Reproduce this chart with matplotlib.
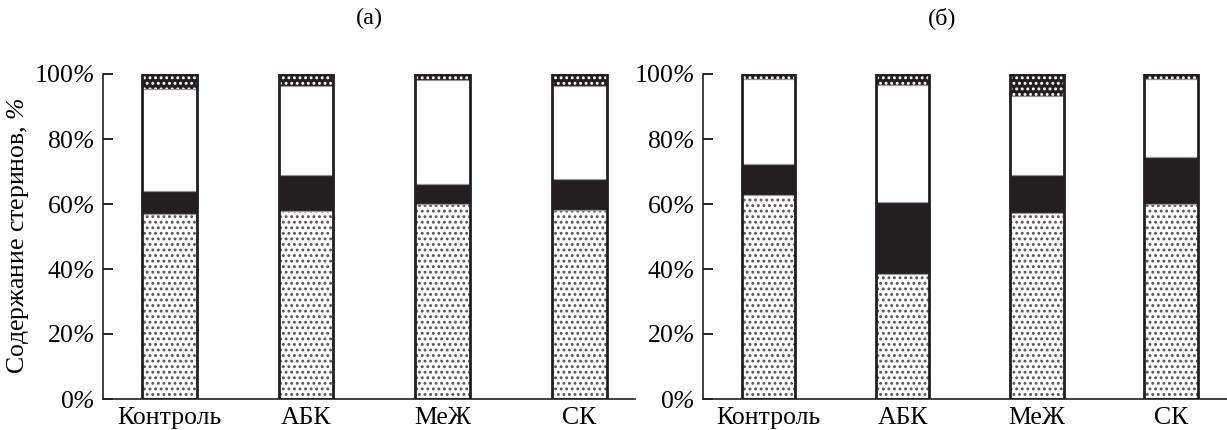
import numpy as np
import matplotlib
matplotlib.use("Agg")
import matplotlib.pyplot as plt

plt.rcParams["font.family"] = ["Liberation Serif", "DejaVu Serif"]
plt.rcParams["mathtext.fontset"] = "custom"
plt.rcParams["mathtext.rm"] = "Liberation Serif:italic"
plt.rcParams["mathtext.it"] = "Liberation Serif:italic"
plt.rcParams["hatch.linewidth"] = 1.3

# -----------------------------------
# data (percent of total sterols)
# -----------------------------------
categories = ["Контроль", "АБК", "МеЖ", "СК"]

a_dots  = [56.9, 57.8, 60.0, 58.2]
a_black = [7.1, 11.1, 6.2, 9.5]
a_white = [31.3, 27.4, 32.0, 28.6]
a_top   = [4.7, 3.7, 1.8, 3.7]

b_dots  = [62.8, 38.5, 57.2, 60.0]
b_black = [9.5, 22.1, 11.7, 14.5]
b_white = [26.1, 36.0, 24.3, 24.0]
b_top   = [1.6, 3.4, 6.8, 1.5]

yticks = [0, 20, 40, 60, 80, 100]
panel_titles = ["(а)", "(б)"]

W, H = 1227, 430
fig = plt.figure(figsize=(W / 100, H / 100), dpi=100)
ax_a = fig.add_axes([103 / W, 1 - 399 / H, (635 - 103) / W, 325 / H])
ax_b = fig.add_axes([703 / W, 1 - 399 / H, (1227 - 703) / W, 325 / H])


def draw_panel(ax, dots, black, white, top, xlim):
    x = np.arange(len(categories))
    w = 0.40
    dots = np.array(dots); black = np.array(black)
    white = np.array(white); top = np.array(top)

    # fills
    ax.bar(x, dots, w, color="white", edgecolor="#555555", hatch="...", lw=0)
    ax.bar(x, black, w, bottom=dots, color="#231f20", lw=0)
    ax.bar(x, white, w, bottom=dots + black, color="white", lw=0)
    ax.bar(x, top, w, bottom=dots + black + white, color="#231f20",
           edgecolor="white", hatch="...", lw=0)
    # segment separators and outline
    for seg, bot in [(dots, 0), (black, dots), (white, dots + black),
                     (top, dots + black + white)]:
        ax.bar(x, seg, w, bottom=bot, fill=False, edgecolor="#999999", lw=0.8)
    ax.bar(x, dots + black + white + top, w, fill=False,
           edgecolor="#231f20", lw=2.0)

    ax.set_xlim(*xlim)
    ax.set_ylim(0, 100)
    ax.set_xticks(x)
    ax.set_xticklabels(categories, fontsize=18.5)
    ax.set_yticks(yticks)
    ax.set_yticklabels([f"{v}" + r"$\%$" for v in yticks], fontsize=18.5)
    ax.tick_params(axis="x", length=0, pad=6)
    ax.tick_params(axis="y", direction="in", length=7, width=1.2, pad=6)
    for s in ["top", "right"]:
        ax.spines[s].set_visible(False)
    for s in ["left", "bottom"]:
        ax.spines[s].set_linewidth(1.2)
        ax.spines[s].set_color("#231f20")


draw_panel(ax_a, a_dots, a_black, a_white, a_top, (-0.485, 3.405))
draw_panel(ax_b, b_dots, b_black, b_white, b_top, (-0.49, 3.42))

fig.text(369 / W, 1 - 18 / H, panel_titles[0], ha="center", va="center", fontsize=17.5)
fig.text(942 / W, 1 - 18 / H, panel_titles[1], ha="center", va="center", fontsize=17.5)
fig.text(18 / W, 1 - 236 / H, "Содержание стеринов, " + r"$\%$",
         rotation=90, ha="center", va="center", fontsize=18.5)

fig.savefig("out.png", dpi=100)
